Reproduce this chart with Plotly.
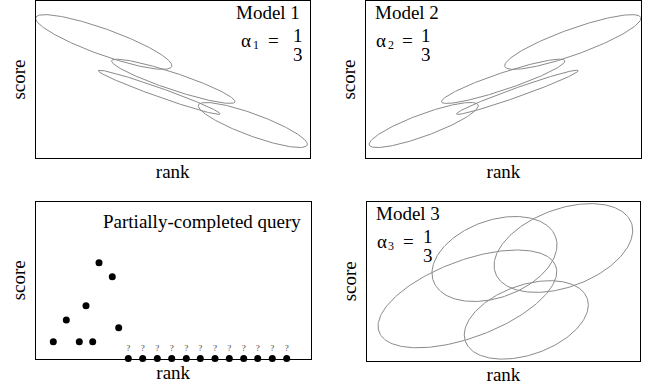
import numpy as np
import plotly.graph_objects as go

W, H = 660, 391
FONT = "Liberation Serif, Times New Roman, serif"

# ---------------- data (panel units, y upward) ----------------
# Model 1 ellipses: centre x, centre y, semi-major, semi-minor, tilt (deg)
m1_cx = [67.7, 137.3, 123.2, 216.8]
m1_cy = [116.0, 76.7, 65.7, 33.0]
m1_a = [72.3, 65.0, 64.6, 58.0]
m1_b = [13.0, 8.5, 4.5, 11.0]
m1_ang = [-19.8, -18.5, -19.6, -20.2]

# Model 2 ellipses
m2_cx = [206.8, 137.2, 151.3, 57.7]
m2_cy = [116.0, 76.7, 65.7, 33.0]
m2_a = [72.3, 65.0, 64.6, 58.0]
m2_b = [13.0, 8.5, 4.5, 11.0]
m2_ang = [19.8, 18.5, 19.6, 20.2]

# Model 3 ellipses
m3_cx = [100.4, 127.5, 196.4, 159.3]
m3_cy = [61.6, 101.5, 112.5, 40.6]
m3_a = [94.3, 65.0, 72.5, 64.6]
m3_b = [38.5, 38.6, 39.0, 34.8]
m3_ang = [20.5, 19.9, 20.3, 19.4]

# Partially-completed query: observed scores and unknown ranks
q_rank = [17.3, 30.3, 43.3, 50.0, 56.7, 63.0, 76.3, 82.7]
q_score = [16.8, 38.5, 16.8, 52.8, 16.8, 95.8, 81.8, 30.8]
u_rank = [92.3, 106.7, 121.3, 135.7, 150.3, 164.3, 179.0, 193.3, 207.7, 221.7, 236.3, 250.7]
u_score = [0] * 12
u_label = ["?"] * 12

# panel boxes in pixels: left, right, top, bottom
boxes = [(36, 309.5, 1, 158), (366, 641, 1, 158), (36, 310.5, 202, 358.5), (367, 640, 202, 360.5)]


def ellipse(cx, cy, a, b, ang):
    t = np.linspace(0, 2 * np.pi, 241)
    th = np.deg2rad(ang)
    x = cx + a * np.cos(t) * np.cos(th) - b * np.sin(t) * np.sin(th)
    y = cy + a * np.cos(t) * np.sin(th) + b * np.sin(t) * np.cos(th)
    return x, y


def ref(k):
    return ("x", "y") if k == 1 else (f"x{k}", f"y{k}")


fig = go.Figure()
ell_sets = [
    (m1_cx, m1_cy, m1_a, m1_b, m1_ang, 1),
    (m2_cx, m2_cy, m2_a, m2_b, m2_ang, 2),
    (m3_cx, m3_cy, m3_a, m3_b, m3_ang, 4),
]
for cxs, cys, as_, bs, angs, k in ell_sets:
    xr, yr = ref(k)
    for cx, cy, a, b, ang in zip(cxs, cys, as_, bs, angs):
        x, y = ellipse(cx, cy, a, b, ang)
        fig.add_trace(go.Scatter(x=x, y=y, mode="lines", line=dict(color="#8a8a8a", width=1),
                                 xaxis=xr, yaxis=yr, hoverinfo="skip", showlegend=False))

fig.add_trace(go.Scatter(x=q_rank, y=q_score, mode="markers", marker=dict(color="black", size=7),
                         xaxis="x3", yaxis="y3", cliponaxis=False, showlegend=False))
fig.add_trace(go.Scatter(x=u_rank, y=u_score, mode="markers+text", text=u_label, textposition="top center",
                         textfont=dict(family=FONT, size=9, color="#444"),
                         marker=dict(color="black", size=7),
                         xaxis="x3", yaxis="y3", cliponaxis=False, showlegend=False))

layout = dict(width=W, height=H, margin=dict(l=0, r=0, t=0, b=0), template="none",
              paper_bgcolor="white", plot_bgcolor="white", showlegend=False,
              font=dict(family=FONT, size=19, color="black"))
for i, (l, r, t, b) in enumerate(boxes, start=1):
    ax = dict(domain=[l / W, r / W], range=[0, r - l], showline=True, mirror=True, linecolor="black",
              linewidth=1.4, showgrid=False, zeroline=False, showticklabels=False, ticks="",
              automargin=False, fixedrange=True,
              title=dict(text="rank", font=dict(family=FONT, size=19), standoff=6))
    ay = dict(domain=[1 - b / H, 1 - t / H], range=[0, b - t], showline=True, mirror=True, linecolor="black",
              linewidth=1.4, showgrid=False, zeroline=False, showticklabels=False, ticks="",
              automargin=False, fixedrange=True,
              title=dict(text="score", font=dict(family=FONT, size=19), standoff=4))
    xr, yr = ref(i)
    ax["anchor"] = yr
    ay["anchor"] = xr
    layout["xaxis" if i == 1 else f"xaxis{i}"] = ax
    layout["yaxis" if i == 1 else f"yaxis{i}"] = ay

fig.update_layout(**layout)


def ann(k, x, y, text, xanchor="center", size=19):
    xr, yr = ref(k)
    fig.add_annotation(x=x, y=y, xref=xr, yref=yr, text=text, showarrow=False, xanchor=xanchor,
                       yanchor="middle", font=dict(family=FONT, size=size, color="black"))


# Model 1
ann(1, 266, 145.5, "Model 1", "right")
ann(1, 203.3, 117.5, "α", "left")
ann(1, 215, 113, "1", "left", 12)
ann(1, 237, 117.5, "=")
ann(1, 262, 122.7, "1")
ann(1, 262, 103.7, "3")
# Model 2
ann(2, 7, 145.5, "Model 2", "left")
ann(2, 8.3, 117.5, "α", "left")
ann(2, 20, 113, "2", "left", 12)
ann(2, 41, 117.5, "=")
ann(2, 60, 122.7, "1")
ann(2, 60, 103.7, "3")
# Partially-completed query
ann(3, 267, 137.2, "Partially-completed query", "right")
# Model 3
ann(4, 7, 147, "Model 3", "left")
ann(4, 7.5, 119, "α", "left")
ann(4, 19.2, 114.5, "3", "left", 12)
ann(4, 41, 119, "=")
ann(4, 61, 124.2, "1")
ann(4, 61, 105.2, "3")

fig.write_html("out.html", config={"displayModeBar": False},
               post_script="document.body.style.margin='0';")
